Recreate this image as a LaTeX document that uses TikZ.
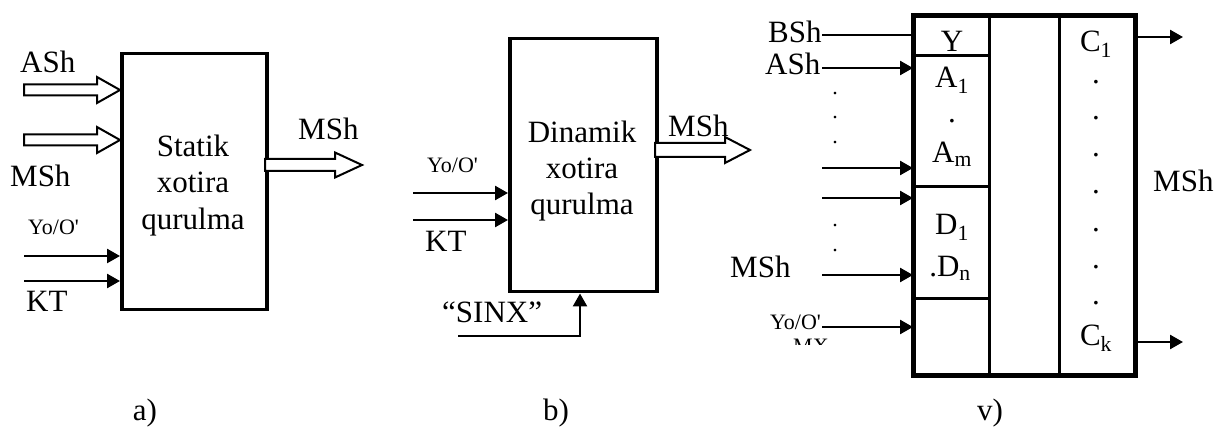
\documentclass[tikz,border=0pt]{standalone}
\usepackage{fontspec}
\setmainfont{Liberation Serif}
\usetikzlibrary{arrows.meta}
\newcommand\busarrow[6]{% x1, x2, y, headx, shaft half, head half
  \draw[bus] ({#1},{#3-#5}) -- ({#4},{#3-#5}) -- ({#4},{#3-#6}) -- ({#2},{#3})
    -- ({#4},{#3+#6}) -- ({#4},{#3+#5}) -- ({#1},{#3+#5}) -- cycle;}
\newcommand\yoo{Yo/O\textquotesingle}
\begin{document}
\begin{tikzpicture}[x=1pt,y=-1pt,
  lbl/.style={font=\fontsize{31}{37}\selectfont, inner sep=0pt, anchor=base west},
  ctr/.style={font=\fontsize{31}{37}\selectfont, inner sep=0pt, anchor=base},
  small/.style={font=\fontsize{22}{26}\selectfont, inner sep=0pt, anchor=base west},
  tiny/.style={font=\fontsize{22}{26}\selectfont, inner sep=0pt, anchor=base},
  blk/.style={draw, line width=3.5pt, anchor=north west, inner sep=0pt},
  cell/.style={draw, line width=3pt, anchor=north west, inner sep=0pt},
  sig/.style={line width=2.5pt, -{Triangle[length=13pt,width=14pt]}},
  wire/.style={line width=2.5pt},
  bus/.style={draw, line width=2pt, fill=white, line join=miter}]
\useasboundingbox (0,0) rectangle (1217,427);

% ---------------- a) ----------------
\node[blk, minimum width=145, minimum height=256] (A) at (120,52) {};
\node[ctr] (at1) at (193,157) {Statik};
\node[ctr] (at2) at (193,193) {xotira};
\node[ctr] (at3) at (193,230) {qurulma};
\busarrow{24}{120}{90}{97}{5.5}{13}
\busarrow{24}{120}{140}{97}{5.5}{13}
\busarrow{265}{362}{165}{335}{6}{12.5}
\node[lbl] (aash) at (20,73) {ASh};
\node[lbl] (amsh) at (10,187) {MSh};
\node[small] (ayo) at (28,235) {\yoo};
\node[lbl] (akt) at (26,312) {KT};
\node[lbl] (amsho) at (298,140) {MSh};
\coordinate (ai1) at (24,256);
\coordinate (ai2) at (24,281);
\draw[sig] (ai1) -- (ai1 -| A.west);
\draw[sig] (ai2) -- (ai2 -| A.west);
\node[ctr] (la) at (145,420) {a)};

% ---------------- b) ----------------
\node[blk, minimum width=147, minimum height=253] (B) at (508,37) {};
\node[ctr] (bt1) at (582,143) {Dinamik};
\node[ctr] (bt2) at (582,179) {xotira};
\node[ctr] (bt3) at (582,215) {qurulma};
\busarrow{655}{750}{150}{725}{7}{13}
\node[lbl] (bmsh) at (668,137) {MSh};
\node[small] (byo) at (427,173) {\yoo};
\node[lbl] (bkt) at (425,252) {KT};
\node[lbl] (bsinx) at (442,323) {“SINX”};
\coordinate (bi1) at (413,193);
\coordinate (bi2) at (413,220);
\draw[sig] (bi1) -- (bi1 -| B.west);
\draw[sig] (bi2) -- (bi2 -| B.west);
\coordinate (bs0) at (458,336);
\coordinate (bs1) at (580,336);
\draw[sig] (bs0) -- (bs1) -- (bs1 |- B.south);
\node[ctr] (lb) at (556,420) {b)};

% ---------------- v) ----------------
\node[cell, minimum width=75, minimum height=39] (Yc) at (913,15) {};
\node[cell, minimum width=75, minimum height=131] (Ac) at (913,54) {};
\node[cell, minimum width=75, minimum height=112] (Dc) at (913,185) {};
\node[cell, minimum width=75, minimum height=76] (Ec) at (913,297) {};
\node[cell, minimum width=70, minimum height=358] (Mc) at (988,15) {};
\node[cell, minimum width=75, minimum height=358] (Cc) at (1058,15) {};
\draw[line width=4pt] (Yc.north west) rectangle (Cc.south east);

\node[ctr] (ty) at (952,52) {Y};
\node[ctr] (ta1) at (952,88) {A\textsubscript{1}};
\node[ctr] (tad) at (952,123) {.};
\node[ctr] (tam) at (952,163) {A\textsubscript{m}};
\node[ctr] (td1) at (952,235) {D\textsubscript{1}};
\node[ctr] (tdn) at (950,277) {.D\textsubscript{n}};
\node[ctr] (tc1) at (1096,52) {C\textsubscript{1}};
\foreach \yy [count=\i] in {84,120,157,194,232,269,305}
  \node[ctr] (cd\i) at (1096,\yy) {.};
\node[ctr] (tck) at (1096,345) {C\textsubscript{k}};

\node[lbl] (vbsh) at (768,43) {BSh};
\node[lbl] (vash) at (765,75) {ASh};
\node[lbl] (vmsh) at (730,278) {MSh};
\node[small] (vyo) at (770,329) {\yoo};
\node[lbl] (vmsho) at (1153,192) {MSh};
\begin{scope}
  \clip (780,336) rectangle (840,344);
  \node[small] (vmx) at (793,353) {MX};
\end{scope}
\foreach \yy [count=\i] in {95,119,144,227,252}
  \node[tiny] (ld\i) at (835,\yy) {.};

\coordinate (v0) at (822,35);
\draw[wire] (v0) -- (v0 -| Yc.west);
\foreach \yy [count=\i] in {68,168,198,275,327}{
  \coordinate (vi\i) at (822,\yy);
  \draw[sig] (vi\i) -- (vi\i -| Ac.west);
}
\coordinate (vo1) at (1183,37);
\coordinate (vo2) at (1183,342);
\draw[sig] (vo1 -| Cc.east) -- (vo1);
\draw[sig] (vo2 -| Cc.east) -- (vo2);
\node[ctr] (lv) at (990,420) {v)};
\end{tikzpicture}
\end{document}
